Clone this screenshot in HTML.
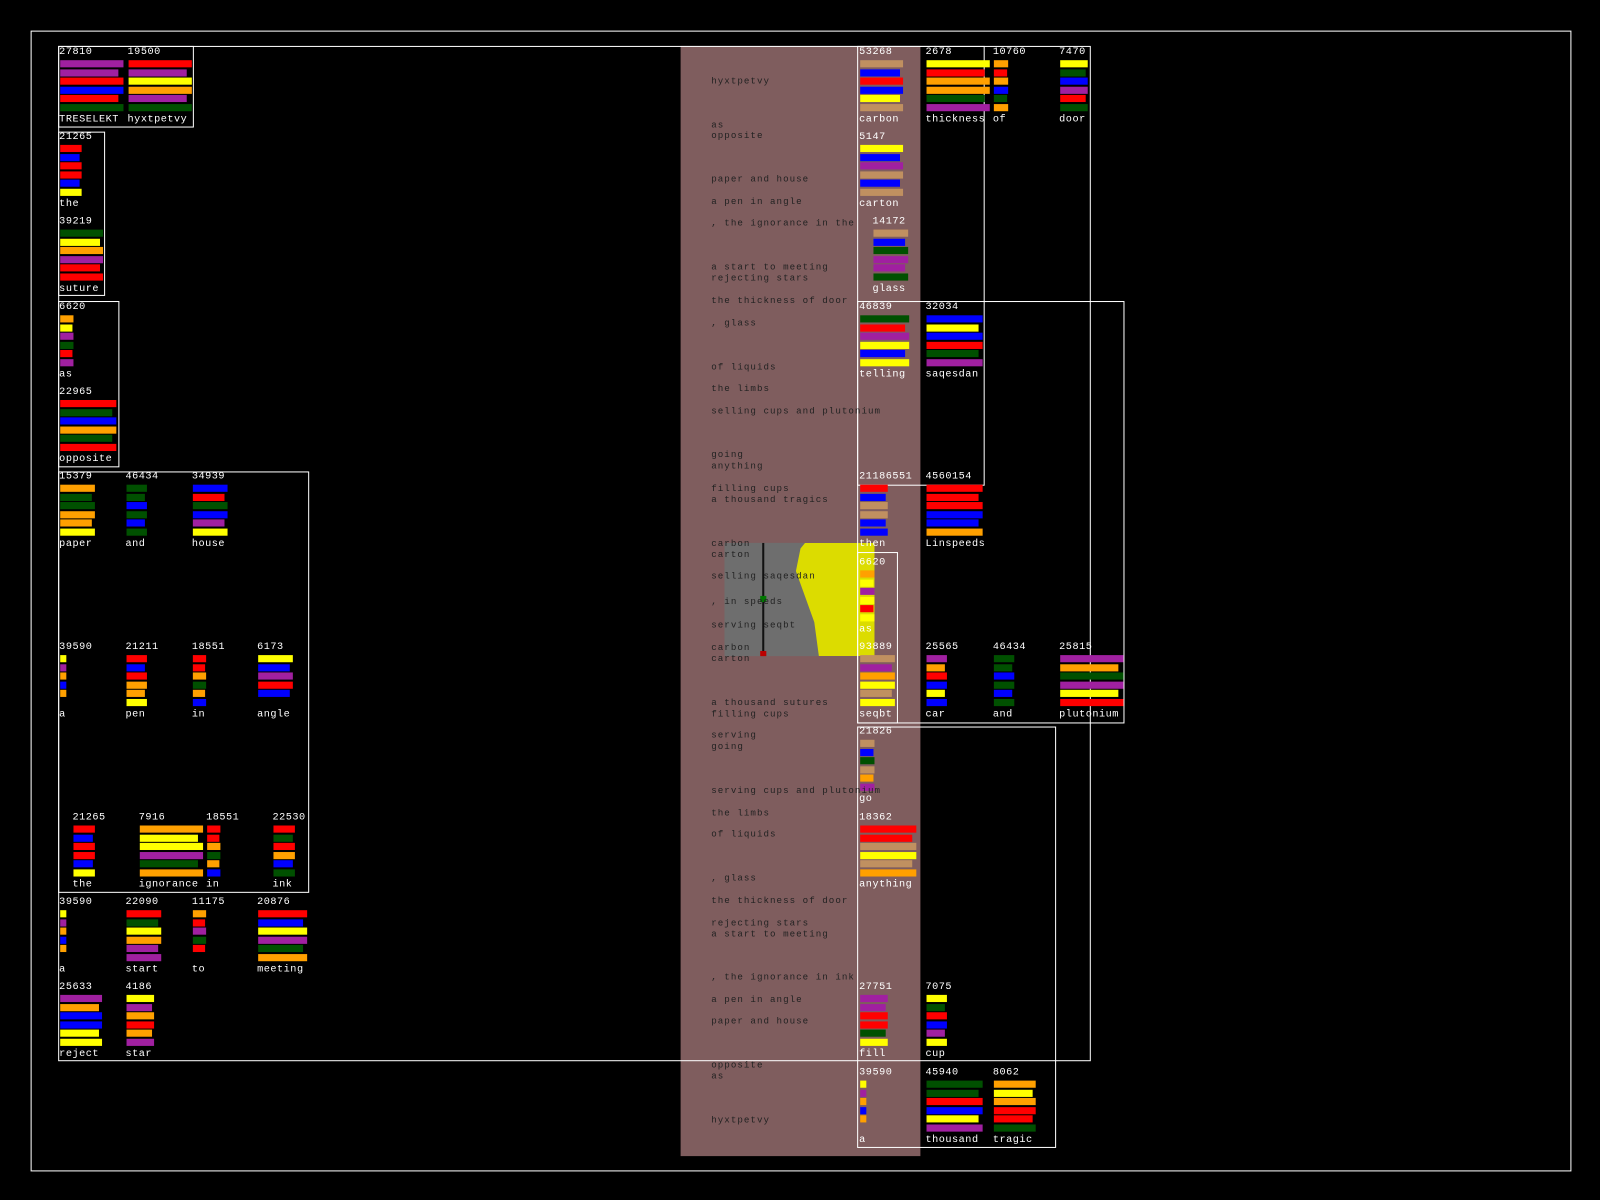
<!DOCTYPE html>
<html><head><meta charset="utf-8">
<style>
html,body{margin:0;padding:0;background:#000;width:1600px;height:1200px;overflow:hidden}
#s{position:absolute;left:0;top:0;width:1568px;height:1176px;transform:scale(1.0204);transform-origin:0 0}
.a{position:absolute}
.b{position:absolute;border:1px solid #fff;box-sizing:border-box}
.t{position:absolute;font:10px "Liberation Mono",monospace;color:#fff;white-space:nowrap;line-height:10px;letter-spacing:0.5px}
.d{position:absolute;font:9px "Liberation Mono",monospace;color:#222;white-space:nowrap;line-height:10px;letter-spacing:1px}
</style></head><body><div id="s">
<div class="b" style="left:30px;top:30px;width:1510px;height:1118px"></div>
<div class="a" style="left:667px;top:45px;width:235px;height:1088px;background:#7f5d5e"></div>
<div class="a" style="left:710px;top:532px;width:147px;height:111px;background:#6e6e6e;overflow:hidden">
 <div class="a" style="left:37px;top:0;width:2px;height:111px;background:#111"></div>
 <div class="a" style="left:35px;top:52px;width:6px;height:6px;background:#070"></div>
 <div class="a" style="left:35px;top:106px;width:6px;height:6px;background:#b00"></div>
 <div class="a" style="left:70px;top:0;width:90px;height:111px;background:#dcdc00;clip-path:polygon(10% 0,100% 0,100% 100%,25% 100%,20% 70%,0 25%,5% 5%)"></div>
</div>
<div class="b" style="left:57px;top:45px;width:1012px;height:995px"></div>
<div class="b" style="left:57px;top:45px;width:133px;height:80px"></div>
<div class="b" style="left:57px;top:129px;width:46px;height:161px"></div>
<div class="b" style="left:57px;top:295px;width:60px;height:163px"></div>
<div class="b" style="left:57px;top:462px;width:246px;height:413px"></div>
<div class="b" style="left:840px;top:45px;width:125px;height:431px"></div>
<div class="b" style="left:840px;top:295px;width:262px;height:414px"></div>
<div class="b" style="left:840px;top:541px;width:40px;height:168px"></div>
<div class="b" style="left:840px;top:712px;width:195px;height:413px"></div>
<div id="c"></div>
</div>
<script>
var C={r:'#ff0000',b:'#0000ff',y:'#ffff00',o:'#ffa000',p:'#a020a0',g:'#005000',t:'#c09060'};
var D=[
[58,47,'27810','TRESELEKT','pprbrg',62],[125,47,'19500','hyxtpetvy','rpyopg',62],
[58,130,'21265','the','rbrrby',21],[58,213,'39219','suture','gyoprr',42],
[58,297,'6620','as','oypgrp',13],[58,380,'22965','opposite','rgbogr',55],
[58,463,'15379','paper','oggooy',34],[123,463,'46434','and','ggbgbg',20],[188,463,'34939','house','brgbpy',34],
[58,630,'39590','a','ypobo',6],[123,630,'21211','pen','rbrooy',20],[188,630,'18551','in','rrogob',13],[252,630,'6173','angle','ybprb',34],
[71,797,'21265','the','rbrrby',21],[136,797,'7916','ignorance','oyypgo',62],[202,797,'18551','in','rrogob',13],[267,797,'22530','ink','rgrobg',21],
[58,880,'39590','a','ypobo',6],[123,880,'22090','start','rgyopp',34],[188,880,'11175','to','orpgr',13],[252,880,'20876','meeting','rbypgo',48],
[58,963,'25633','reject','pobbyy',41],[123,963,'4186','star','yporop',27],
[842,47,'53268','carbon','tbrbyt',42],[842,130,'5147','carton','ybptbt',42],[855,213,'14172','glass','tbgppg',34],
[907,47,'2678','thickness','yroogp',62],[973,47,'10760','of','orobgo',14],[1038,47,'7470','door','ygbprg',27],
[842,297,'46839','telling','grpyby',48],[907,297,'32034','saqesdan','bybrgp',55],
[842,463,'21186551','then','rbttbb',27],[907,463,'4560154','Linspeeds','rrrbbo',55],
[842,547,'6620','as','oypyry',14],[842,630,'93889','seqbt','tpoyty',34],
[907,630,'25565','car','porbyb',20],[973,630,'46434','and','ggbgbg',20],[1038,630,'25815','plutonium','pogpyr',62],
[842,713,'21826','go','tbgtop',14],[842,797,'18362','anything','rrtyto',55],
[842,963,'27751','fill','pprrgy',27],[907,963,'7075','cup','ygrbpy',20],
[842,1047,'39590','a','ypobo',6],[907,1047,'45940','thousand','ggrbyp',55],[973,1047,'8062','tragic','oyorrg',41]];
var h='';
D.forEach(function(d){
 h+='<div class="t" style="left:'+d[0]+'px;top:'+d[1]+'px">'+d[2]+'</div>';
 for(var i=0;i<d[4].length;i++){
  var w=d[5]*(i%3==1?0.92:1);
  h+='<div class="a" style="left:'+(d[0]+1)+'px;top:'+(d[1]+12+i*8.6)+'px;width:'+w+'px;height:7px;background:'+C[d[4][i]]+'"></div>';
 }
 h+='<div class="t" style="left:'+d[0]+'px;top:'+(d[1]+66)+'px">'+d[3]+'</div>';
});
var T=[[75,'hyxtpetvy'],[118,'as'],[128,'opposite'],[171,'paper and house'],[193,'a pen in angle'],[214,', the ignorance in the'],[257,'a start to meeting'],[268,'rejecting stars'],[290,'the thickness of door'],[312,', glass'],[355,'of liquids'],[376,'the limbs'],[398,'selling cups and plutonium'],[441,'going'],[452,'anything'],[474,'filling cups'],[485,'a thousand tragics'],[528,'carbon'],[539,'carton'],[560,'selling saqesdan'],[585,'  , in speeds'],[608,'serving seqbt'],[630,'carbon'],[641,'carton'],[684,'a thousand sutures'],[695,'filling cups'],[716,'serving'],[727,'going'],[770,'serving cups and plutonium'],[792,'the limbs'],[813,'of liquids'],[856,', glass'],[878,'the thickness of door'],[900,'rejecting stars'],[911,'a start to meeting'],[953,', the ignorance in ink'],[975,'a pen in angle'],[996,'paper and house'],[1039,'opposite'],[1050,'as'],[1093,'hyxtpetvy']];
T.forEach(function(t){h+='<div class="d" style="left:697px;top:'+t[0]+'px">'+t[1]+'</div>';});
document.getElementById('c').innerHTML=h;
</script>
</body></html>
